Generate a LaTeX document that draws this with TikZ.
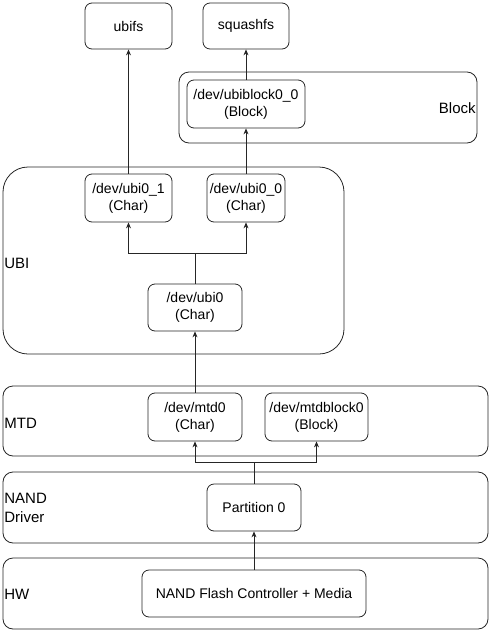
\documentclass[tikz,border=0pt]{standalone}
\usepackage{fontspec}
\setmainfont{Liberation Sans}
\usetikzlibrary{arrows.meta}
\begin{document}
\begin{tikzpicture}[x=1pt,y=-1pt,
  line width=0.8pt, draw=black!85,
  box/.style={draw, rounded corners=7pt, align=center, inner sep=0pt,
    font=\fontsize{14}{17}\selectfont},
  layer/.style={draw, rounded corners=10pt, inner sep=0pt},
  layername/.style={anchor=west, align=left, inner sep=1pt,
    font=\fontsize{15}{19}\selectfont},
  link/.style={-{Stealth[length=6pt,width=5pt]}}]
\useasboundingbox (0,0) rectangle (500,640);

% layers
\node[layer, minimum width=298, minimum height=71] (blocklayer) at (328,107.5) {};
\node[layer, rounded corners=25pt, minimum width=341, minimum height=187] (ubilayer) at (173.5,260.5) {};
\node[layer, minimum width=485, minimum height=70] (mtdlayer) at (245.5,421) {};
\node[layer, minimum width=485, minimum height=71] (nandlayer) at (245.5,507.5) {};
\node[layer, minimum width=485, minimum height=71] (hwlayer) at (245.5,593.5) {};

\node[layername, anchor=east] (blockname) at (477,108) {Block};
\node[layername] (ubiname) at (3,263) {UBI};
\node[layername] (mtdname) at (3,423) {MTD};
\node[layername] (nandname) at (3,508) {NAND\\Driver};
\node[layername] (hwname) at (3,594) {HW};

% file systems
\node[box, minimum width=87, minimum height=46] (ubifs) at (128.5,26) {ubifs};
\node[box, minimum width=86, minimum height=46] (squashfs) at (246,26) {squashfs};

% devices
\node[box, minimum width=118, minimum height=48] (ubiblock) at (246,104) {/dev/ubiblock0\_0\\(Block)};
\node[box, minimum width=87, minimum height=48] (ubione) at (128.5,198) {/dev/ubi0\_1\\(Char)};
\node[box, minimum width=78, minimum height=48] (ubizero) at (246,198) {/dev/ubi0\_0\\(Char)};
\node[box, minimum width=94, minimum height=47] (ubi) at (195,307.5) {/dev/ubi0\\(Char)};
\node[box, minimum width=94, minimum height=48] (mtd) at (195,417) {/dev/mtd0\\(Char)};
\node[box, minimum width=103, minimum height=48] (mtdblock) at (316.5,417) {/dev/mtdblock0\\(Block)};
\node[box, minimum width=94, minimum height=47] (part) at (254,507.5) {Partition 0};
\node[box, minimum width=224, minimum height=47] (flash) at (254,593.5) {NAND Flash Controller + Media};

\coordinate (ubisplit) at (195,253);
\coordinate (partsplit) at (254,462);

% connectors
\draw[link] (ubione.north) -- (ubifs.south);
\draw[link] (ubizero.north) -- (ubiblock.south);
\draw[link] (ubiblock.north) -- (squashfs.south);
\draw[link] (ubi.north) -- (ubisplit) -| (ubione.south);
\draw[link] (ubisplit) -| (ubizero.south);
\draw[link] (mtd.north) -- (ubi.south);
\draw[link] (part.north) -- (partsplit) -| (mtd.south);
\draw[link] (partsplit) -| (mtdblock.south);
\draw[link] (flash.north) -- (part.south);
\end{tikzpicture}
\end{document}
